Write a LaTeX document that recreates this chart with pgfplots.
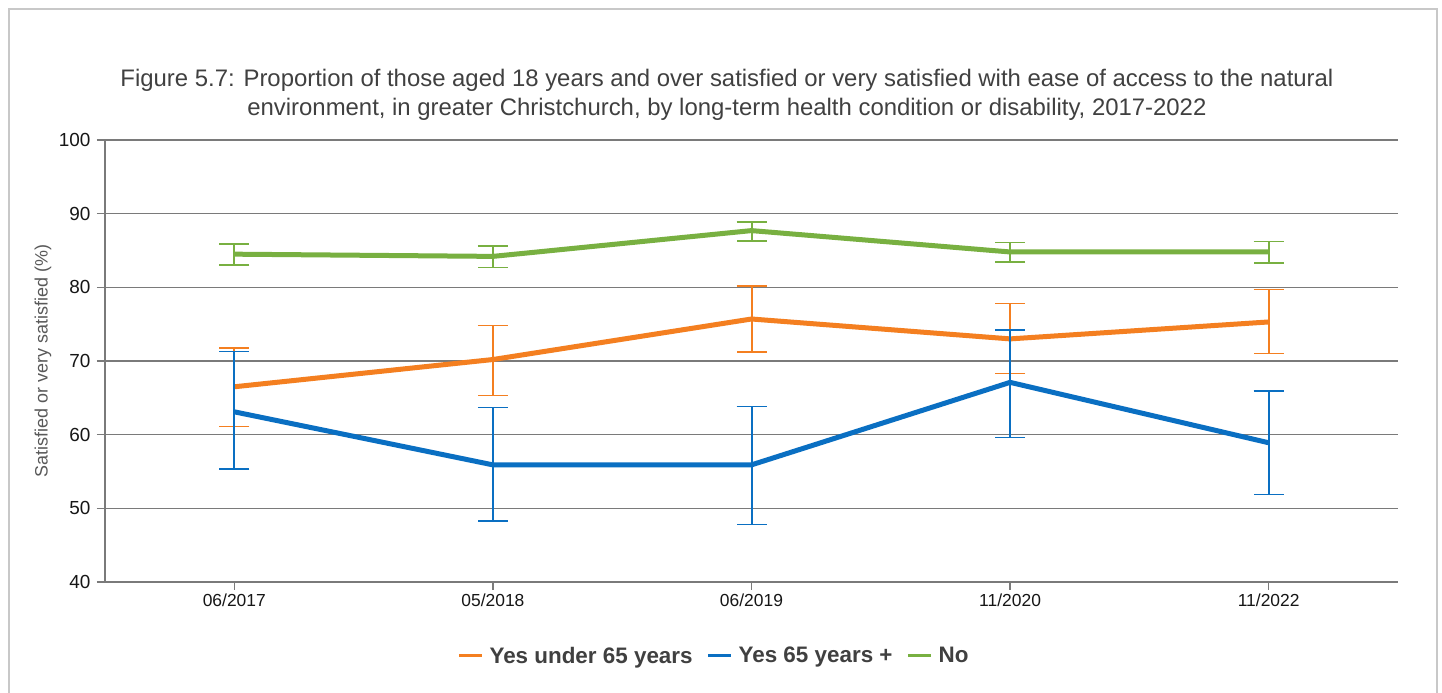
\documentclass[border=0pt]{standalone}
\usepackage{fontspec}
\setmainfont{Liberation Sans}
\usepackage{pgfplots}
\pgfplotsset{compat=1.18}
\usepackage{pgfplotstable}
\definecolor{cOr}{HTML}{F47F20}
\definecolor{cBl}{HTML}{0A6FC2}
\definecolor{cGr}{HTML}{78B041}
\definecolor{cGrid}{HTML}{7A7A7A}
\definecolor{cFrame}{HTML}{C8C8C8}
\definecolor{cTitle}{HTML}{404040}
\definecolor{cLab}{HTML}{595959}
\definecolor{cTick}{HTML}{161616}

\pgfplotstableread{
x y ep em
0 66.5 5.3 5.4
1 70.2 4.6 4.9
2 75.7 4.5 4.5
3 73.0 4.8 4.7
4 75.3 4.4 4.3
}\orangedata
\pgfplotstableread{
x y ep em
0 63.1 8.2 7.8
1 55.9 7.8 7.6
2 55.9 7.9 8.1
3 67.1 7.1 7.5
4 58.9 7.0 7.0
}\bluedata
\pgfplotstableread{
x y ep em
0 84.5 1.4 1.5
1 84.2 1.4 1.5
2 87.7 1.2 1.4
3 84.8 1.3 1.4
4 84.8 1.4 1.5
}\greendata

\begin{document}
\begin{tikzpicture}
\useasboundingbox (0bp,0bp) rectangle (1442bp,693bp);
\fill[white] (0bp,0bp) rectangle (1442bp,693bp);
\draw[cFrame, line width=2bp] (9bp,-10bp) -- (9bp,684bp) -- (1437bp,684bp) -- (1437bp,-10bp);
\begin{axis}[
  at={(105bp,111bp)}, anchor=south west,
  scale only axis, width=1293bp, height=442bp,
  xmin=-0.5, xmax=4.5, ymin=40, ymax=100,
  ytick={40,50,...,100},
  xtick={0,1,2,3,4},
  xticklabels={06/2017,05/2018,06/2019,11/2020,11/2022},
  axis x line*=bottom, axis y line*=left,
  axis line style={cGrid, line width=1.4bp, -},
  ymajorgrids, grid style={cGrid, line width=1.4bp},
  tick style={cGrid, line width=1.4bp},
  tick align=outside, major tick length=8bp,
  yticklabel style={font=\fontsize{19}{19}\selectfont, text=cTick, xshift=-3bp},
  xticklabel style={font=\fontsize{17.5}{17.5}\selectfont, text=cTick},
  /pgf/number format/assume math mode=true,
  ylabel={Satisfied or very satisfied (\%)},
  every axis y label/.style={at={(axis description cs:-0.048,0.5)}, rotate=90, anchor=center, font=\fontsize{18}{18}\selectfont, text=cLab},
  title={Figure 5.7: Proportion of those aged 18 years and over satisfied or very satisfied with ease of access to the natural\\environment, in greater Christchurch, by long-term health condition or disability, 2017-2022},
  title style={at={(axis description cs:0.481,1.089)}, anchor=center, align=center, font=\fontsize{24}{28.5}\selectfont, text=cTitle},
  legend style={at={(axis description cs:0.471,-0.167)}, anchor=center, draw=none, fill=none, legend columns=3, font=\bfseries\fontsize{22.5}{22.5}\selectfont, text=cTitle, /tikz/every even column/.append style={column sep=12bp}, /tikz/every odd column/.append style={column sep=4bp}},
  legend image code/.code={\draw[#1, line width=3bp] (0bp,0bp) -- (23bp,0bp);},
]
\addplot[cOr, line width=5bp, line join=round, mark=none,
  error bars/.cd, y dir=both, y explicit,
  error bar style={cOr, line width=2bp},
  error mark options={cOr, rotate=90, mark size=15bp, line width=1.6bp}]
  table[x=x, y=y, y error plus=ep, y error minus=em] {\orangedata};
\addlegendentry{Yes under 65 years}
\addplot[cBl, line width=5bp, line join=round, mark=none,
  error bars/.cd, y dir=both, y explicit,
  error bar style={cBl, line width=2bp},
  error mark options={cBl, rotate=90, mark size=15bp, line width=1.6bp}]
  table[x=x, y=y, y error plus=ep, y error minus=em] {\bluedata};
\addlegendentry{Yes 65 years +}
\addplot[cGr, line width=5bp, line join=round, mark=none,
  error bars/.cd, y dir=both, y explicit,
  error bar style={cGr, line width=2bp},
  error mark options={cGr, rotate=90, mark size=15bp, line width=1.6bp}]
  table[x=x, y=y, y error plus=ep, y error minus=em] {\greendata};
\addlegendentry{No}
\end{axis}
\end{tikzpicture}
\end{document}
